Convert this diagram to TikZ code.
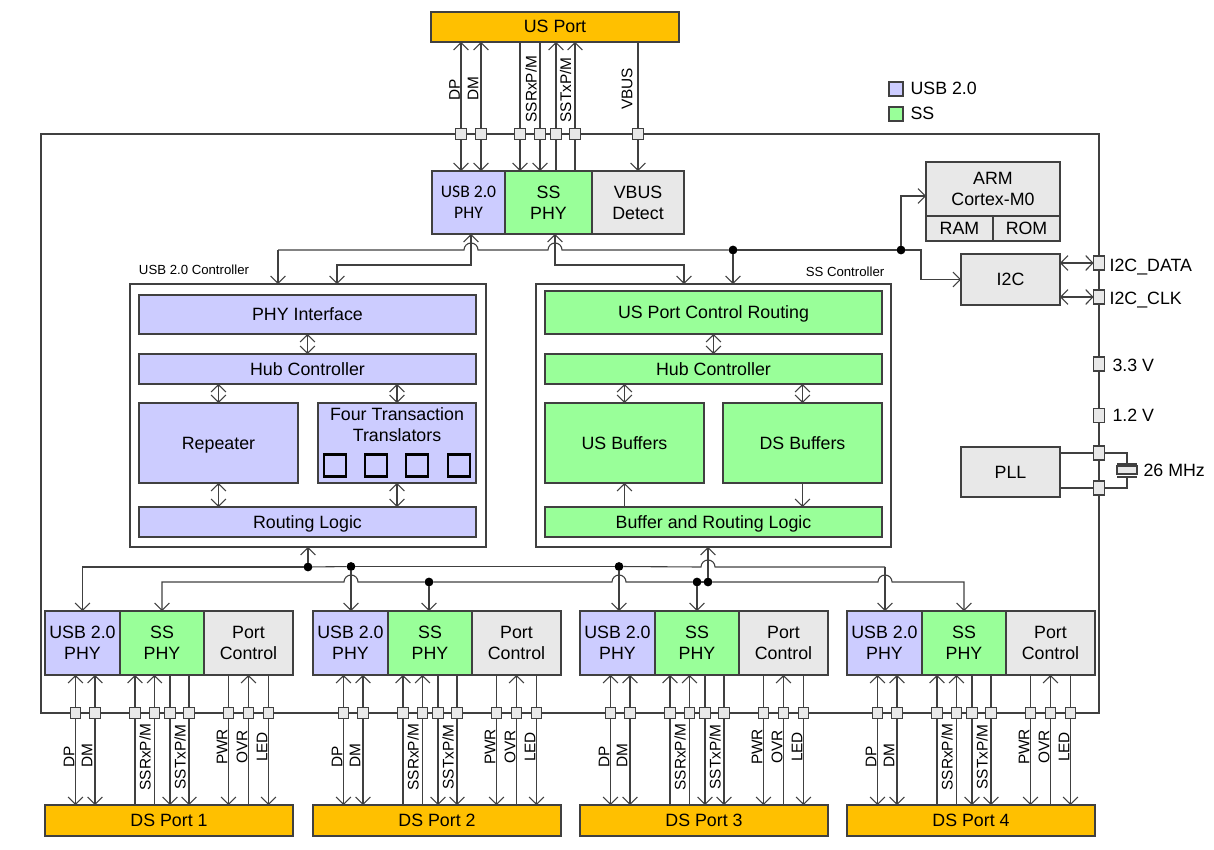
\documentclass[tikz,border=0pt]{standalone}
\usepackage{fontspec}
\setmainfont{Liberation Sans}
\newfontfamily\phyfont{Carlito}
\usetikzlibrary{arrows.meta}
\definecolor{usbfill}{HTML}{CCCCFF}
\definecolor{ssfill}{HTML}{99FF99}
\definecolor{ctlfill}{HTML}{E8E8E8}
\definecolor{portfill}{HTML}{FFC000}
\definecolor{wire}{HTML}{404040}
\newcommand{\hop}[2]{-- (#1-7,#2) arc[start angle=180,end angle=360,radius=7]}
\tikzset{
  bodytext/.style={font=\fontsize{8.9}{10.5}\selectfont},
  smalltext/.style={font=\fontsize{6.6}{8}\selectfont,inner sep=0pt},
  pintext/.style={font=\fontsize{7.7}{9}\selectfont,rotate=90,inner sep=0pt},
  sidetext/.style={bodytext,anchor=base west,inner sep=0pt},
  box/.style 2 args={draw=wire,line width=0.55pt,inner sep=0pt,outer sep=0pt,anchor=north west,
    align=center,bodytext,text depth=0pt,minimum width=#1*0.5pt,minimum height=#2*0.5pt},
  usbbox/.style 2 args={box={#1}{#2},fill=usbfill},
  ssbox/.style 2 args={box={#1}{#2},fill=ssfill},
  ctlbox/.style 2 args={box={#1}{#2},fill=ctlfill},
  portbox/.style 2 args={box={#1}{#2},fill=portfill},
  pad/.style={draw=wire,line width=0.55pt,fill=ctlfill,inner sep=0pt,outer sep=0pt,minimum size=5.4pt},
  sidepad/.style={pad,minimum width=5.4pt,minimum height=7pt},
  dot/.style={circle,fill=black,inner sep=0pt,outer sep=0pt,minimum size=4.4pt},
  ttcell/.style={draw=black,line width=1.2pt,inner sep=0pt,minimum size=11pt}
}
\begin{document}
\begin{tikzpicture}[x=0.5pt,y=-0.5pt,line width=0.55pt,draw=wire,>={Straight Barb[length=3.6pt,width=7.4pt]}]
\useasboundingbox (0,0) rectangle (1214,850);
% outline of the chip
\node[box={1058}{579}] (chip) at (41,134) {};
% upstream side
\node[portbox={248}{30},text depth=1pt] (usport) at (431,12) {US Port};
\node[usbbox={73}{63},font=\phyfont\fontsize{8.8}{10.5}\selectfont] (usbtop) at (432,171) {USB 2.0\\PHY};
\node[ssbox={87}{63}] (sstop) at (505,171) {SS\\PHY};
\node[ctlbox={92}{63}] (vbusdet) at (592,171) {VBUS\\Detect};
\foreach \pname/\px in {pdp/461,pdm/481,prx/520,prm/540,ptx/556,ptm/575,pvb/638}
  \node[pad] (\pname) at (\px,134) {};
\foreach \pname in {pdp,pdm} {
  \draw[->] (\pname) -- (\pname |- usport.south);
  \draw[->] (\pname) -- (\pname |- usbtop.north);
}
\foreach \pname in {prx,prm} {
  \draw (\pname) -- (\pname |- usport.south);
  \draw[->] (\pname) -- (\pname |- sstop.north);
}
\foreach \pname in {ptx,ptm} {
  \draw[->] (\pname) -- (\pname |- usport.south);
  \draw (\pname) -- (\pname |- sstop.north);
}
\draw (pvb) -- (pvb |- usport.south);
\draw[->] (pvb) -- (pvb |- vbusdet.north);
\node[pintext] (ldp) at (454.5,90) {DP};
\node[pintext] (ldm) at (473,89) {DM};
\node[pintext] (lrx) at (531,89) {SSRxP/M};
\node[pintext] (ltx) at (565.5,90) {SSTxP/M};
\node[pintext] (lvb) at (627,89) {VBUS};
% legend
\node[usbbox={14}{14}] (keyusb) at (889,82) {};
\node[ssbox={14}{14}] (keyss) at (889,107) {};
\node[sidetext] (lkeyusb) at (910,95) {USB 2.0};
\node[sidetext] (lkeyss) at (910,120) {SS};
% USB 2.0 controller
\node[box={356}{263}] (usbctl) at (130,284) {};
\node[smalltext] (lusbctl) at (194,270) {USB 2.0 Controller};
\node[usbbox={337}{39}] (usbphyif) at (139,295) {PHY Interface};
\node[usbbox={337}{30}] (usbhub) at (139,354) {Hub Controller};
\node[usbbox={159}{80}] (repeater) at (139,403) {Repeater};
\node[usbbox={158}{80}] (tt) at (318,403) {};
\node[bodytext,align=center,inner sep=0pt] (ltt) at (397,424.5) {Four Transaction\\Translators};
\foreach \px in {335,376,417,459}
  \node[ttcell] (tt\px) at (\px,465.5) {};
\node[usbbox={337}{30}] (usbroute) at (139,507) {Routing Logic};
\draw[<->] (usbphyif) -- (usbhub);
\draw[<->] (repeater.north) -- (repeater.north |- usbhub.south);
\draw[<->] (tt.north) -- (tt.north |- usbhub.south);
\draw[<->] (repeater.south) -- (repeater.south |- usbroute.north);
\draw[<->] (tt.south) -- (tt.south |- usbroute.north);
% SS controller
\node[box={355}{263}] (ssctl) at (536,284) {};
\node[smalltext] (lssctl) at (845,272) {SS Controller};
\node[ssbox={337}{43}] (ssroute) at (545,291) {US Port Control Routing};
\node[ssbox={337}{30}] (sshub) at (545,354) {Hub Controller};
\node[ssbox={159}{80}] (usbuf) at (545,403) {US Buffers};
\node[ssbox={159}{80}] (dsbuf) at (723,403) {DS Buffers};
\node[ssbox={337}{30}] (sslogic) at (545,507) {Buffer and Routing Logic};
\draw[<->] (ssroute) -- (sshub);
\draw[<->] (usbuf.north) -- (usbuf.north |- sshub.south);
\draw[<->] (dsbuf.north) -- (dsbuf.north |- sshub.south);
\draw[->] (usbuf.south |- sslogic.north) -- (usbuf.south);
\draw[->] (dsbuf.south) -- (dsbuf.south |- sslogic.north);
% right hand side
\node[ctlbox={134}{54}] (cpu) at (926,162) {ARM\\Cortex-M0};
\node[ctlbox={67}{25}] (ram) at (926,216) {RAM};
\node[ctlbox={67}{25}] (rom) at (993,216) {ROM};
\node[ctlbox={99}{51}] (i2c) at (961,254) {I2C};
\node[ctlbox={99}{50}] (pll) at (961,447) {PLL};
\node[sidepad] (pdata) at (1099,263) {};
\node[sidepad] (pclk) at (1099,297) {};
\node[sidepad] (pvio) at (1099,364) {};
\node[sidepad] (pcore) at (1099,415.5) {};
\node[sidepad] (pxa) at (1099,453) {};
\node[sidepad] (pxb) at (1099,488) {};
\node[sidetext] (ldata) at (1109,271) {I2C\_DATA};
\node[sidetext] (lclk) at (1109,304) {I2C\_CLK};
\node[sidetext] (lvio) at (1112,371) {3.3 V};
\node[sidetext] (lcore) at (1112,421) {1.2 V};
\draw[<->] (i2c.east |- pdata) -- (pdata);
\draw[<->] (i2c.east |- pclk) -- (pclk);
\draw (pll.east |- pxa) -- (pxa);
\draw (pll.east |- pxb) -- (pxb);
\node[draw=wire,line width=0.55pt,fill=ctlfill,inner sep=0pt,minimum width=10pt,minimum height=4pt] (xtal) at (1127,470) {};
\coordinate (xtop) at (1127,464);
\coordinate (xbot) at (1127,477);
\draw (pxa) -| (xtop);
\draw (pxb) -| (xbot);
\draw (1117,464) -- (xtop) -- (1137,464);
\draw (1117,477) -- (xbot) -- (1137,477);
\node[sidetext] (lxtal) at (1143,476) {26 MHz};
% upper bus
\coordinate (bus) at (278,250);
\coordinate (usbin) at (337,284);
\coordinate (ssin) at (684,284);
\coordinate (usbup) at (471,234);
\coordinate (ssup) at (555,234);
\coordinate (cpuin) at (926,196);
\node[dot] (dotss) at (733,250) {};
\node[dot] (dotcpu) at (901,250) {};
\draw[->] (bus) -- (bus |- usbctl.north);
\draw (bus) \hop{471}{250} \hop{555}{250} -- (dotss);
\draw (dotss) -- (dotcpu);
\draw[<->] (usbin) -- (337,265) -| (usbup);
\draw[<->] (ssup) -- (555,265) -| (ssin);
\draw[->] (dotss) -- (dotss |- ssctl.north);
\draw[->] (dotcpu) |- (cpuin);
\draw[->] (dotcpu) -- (921,250) |- (i2c.west);
% downstream ports
\foreach \n/\dx in {1/0,2/268,3/535,4/802} {
  \begin{scope}[shift={(\dx,0)}]
  \node[usbbox={75}{64}] (uphy\n) at (45,611) {USB 2.0\\PHY};
  \node[ssbox={84}{64}] (sphy\n) at (120,611) {SS\\PHY};
  \node[ctlbox={89}{64}] (pctl\n) at (204,611) {Port\\Control};
  \node[portbox={248}{31}] (dsport\n) at (45,805) {DS Port \n};
  \foreach \pname/\px in {dp/75.5,dm/95,rx/135,rm/154.5,tx/170,tm/189,pw/228.5,ov/248.5,le/268.5}
    \node[pad] (\pname\n) at (\px,713) {};
  \node[pintext] (ldp\n) at (69,757) {DP};
  \node[pintext] (ldm\n) at (87,756) {DM};
  \node[pintext] (lrx\n) at (145,757) {SSRxP/M};
  \node[pintext] (ltx\n) at (180,757) {SSTxP/M};
  \node[pintext] (lpw\n) at (222,747) {PWR};
  \node[pintext] (lov\n) at (242,747) {OVR};
  \node[pintext] (lle\n) at (262,747) {LED};
  \end{scope}
  \foreach \pname in {dp,dm} {
    \draw[->] (\pname\n) -- (\pname\n |- uphy\n.south);
    \draw[->] (\pname\n) -- (\pname\n |- dsport\n.north);
  }
  \foreach \pname in {rx,rm} {
    \draw[->] (\pname\n) -- (\pname\n |- sphy\n.south);
    \draw (\pname\n) -- (\pname\n |- dsport\n.north);
  }
  \foreach \pname in {tx,tm} {
    \draw (\pname\n) -- (\pname\n |- sphy\n.south);
    \draw[->] (\pname\n) -- (\pname\n |- dsport\n.north);
  }
  \foreach \pname in {pw,le} {
    \draw (\pname\n) -- (\pname\n |- pctl\n.south);
    \draw[->] (\pname\n) -- (\pname\n |- dsport\n.north);
  }
  \draw[->] (ov\n) -- (ov\n |- pctl\n.south);
  \draw (ov\n) -- (ov\n |- dsport\n.north);
}
% lower bus
\node[dot] (dotrl) at (308,567) {};
\node[dot] (dotu2) at (351,566.5) {};
\node[dot] (dotu3) at (619,566.5) {};
\coordinate (usbend) at (885,567);
\node[dot] (dots2) at (429,582) {};
\node[dot] (dots3) at (697,582) {};
\node[dot] (dotbl) at (708,582) {};
\draw[->] (dotrl) -| (uphy1.north);
\draw (dotrl) -- (dotu2);
\draw (dotu2) -- (dotu3);
\draw (dotu3) \hop{708}{567} -- (usbend);
\draw[->] (usbend) -- (usbend |- uphy4.north);
\draw[->] (dotrl) -- (dotrl |- usbctl.south);
\draw[->] (dotu2) -- (dotu2 |- uphy2.north);
\draw[->] (dotu3) -- (dotu3 |- uphy3.north);
\draw[<-] (sphy1.north) -- (162,582) \hop{351}{582} -- (dots2);
\draw (dots2) \hop{619}{582} -- (dots3);
\draw (dots3) -- (dotbl);
\draw[->] (dotbl) \hop{885}{582} -| (sphy4.north);
\draw[->] (dots2) -- (dots2 |- sphy2.north);
\draw[->] (dots3) -- (dots3 |- sphy3.north);
\draw[->] (dotbl) -- (dotbl |- ssctl.south);
\end{tikzpicture}
\end{document}
